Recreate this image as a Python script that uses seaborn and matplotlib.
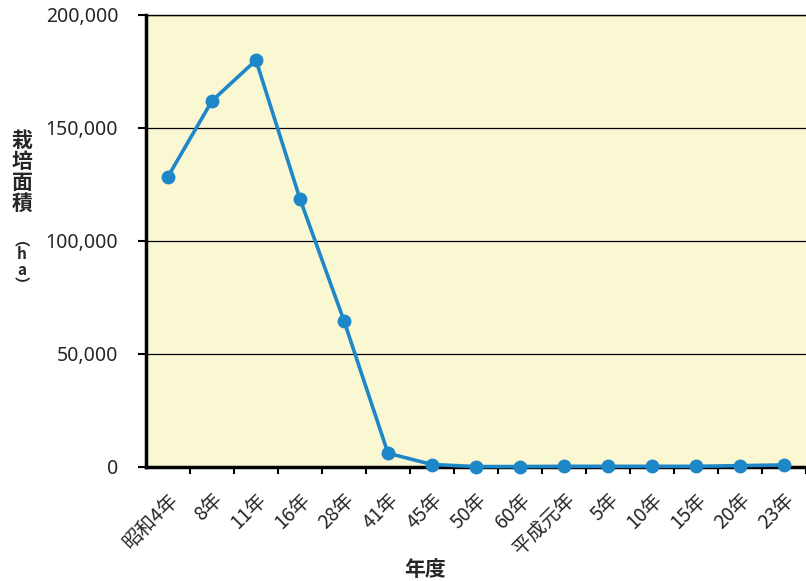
import matplotlib
matplotlib.use("Agg")
import matplotlib.pyplot as plt
import matplotlib.transforms as mtransforms
import seaborn as sns
import numpy as np
import pandas as pd
from matplotlib.ticker import FuncFormatter, FixedLocator

categories = ["昭和4年", "8年", "11年", "16年", "28年", "41年", "45年", "50年",
              "60年", "平成元年", "5年", "10年", "15年", "20年", "23年"]
area_ha = [128500, 162000, 180000, 118600, 64700, 6100, 1100, 200,
           200, 300, 300, 300, 300, 600, 900]
y_ticks = [0, 50000, 100000, 150000, 200000]

sns.set_theme(style="white")
plt.rcParams['font.family'] = ['Noto Sans CJK JP', 'DejaVu Sans']

df = pd.DataFrame({"pos": np.arange(len(categories)), "area": area_ha})

fig = plt.figure(figsize=(8.06, 5.81), dpi=100)
ax = fig.add_axes([146/806, (581-467)/581, (806-146)/806, (467-15)/581])
ax.set_facecolor("#FAF7D3")

for v in y_ticks[1:]:
    ax.axhline(v, color="black", lw=0.9, zorder=1)

sns.lineplot(data=df, x="pos", y="area", ax=ax, color="#1E87C7", lw=2.6,
             marker="o", markersize=10, markeredgewidth=0, zorder=3, clip_on=False)

ax.set_xlim(-0.5, len(categories) - 0.5)
ax.set_ylim(0, 200000)
ax.set_yticks(y_ticks)
ax.yaxis.set_major_formatter(FuncFormatter(lambda v, p: f"{int(v):,}"))
ax.set_xticks(np.arange(len(categories)))
ax.set_xticklabels(categories, rotation=45, ha="right", va="top",
                   rotation_mode="anchor", fontsize=14)
offset = mtransforms.ScaledTranslation(3/100, 0, fig.dpi_scale_trans)
for lab in ax.get_xticklabels():
    lab.set_transform(lab.get_transform() + offset)
ax.xaxis.set_minor_locator(FixedLocator(np.arange(len(categories)) + 0.5))
ax.tick_params(axis="x", which="major", length=0, pad=16)
ax.tick_params(axis="x", which="minor", length=5, width=1.5, direction="out", color="black", bottom=True)
ax.tick_params(axis="y", length=6, width=1.5, direction="out", color="black", pad=14, left=True)
for lab in ax.get_yticklabels():
    lab.set_fontfamily(["Noto Sans", "DejaVu Sans"])
    lab.set_fontsize(14)

for s in ["left", "bottom"]:
    ax.spines[s].set_color("black")
    ax.spines[s].set_linewidth(2.5)
ax.spines["top"].set_color("black")
ax.spines["top"].set_linewidth(1)
ax.spines["right"].set_visible(False)

ax.set_xlabel("")
ax.set_ylabel("")
fig.text(425/806, 1 - 570/581, "年度", ha="center", va="center", fontsize=15, fontweight="bold")
fig.text(22/806, 1 - 172/581, "栽\n培\n面\n積", ha="center", va="center",
         fontsize=15, fontweight="bold", linespacing=1.0)
fig.text(22/806, 1 - 262/581, "︵\nh\na\n︶", ha="center", va="center",
         fontsize=11, fontweight="bold", linespacing=0.95)

fig.savefig("out.png", dpi=100)
